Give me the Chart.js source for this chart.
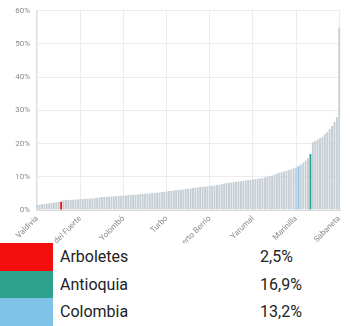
<!DOCTYPE html>
<html lang="es">
<head>
<meta charset="UTF-8">
<title>Municipios de Antioquia</title>
<script src="https://cdn.jsdelivr.net/npm/chart.js"></script>
<style>
  body { margin: 0; background: #fff; font-family: Roboto, "Noto Sans", sans-serif; }
  #wrap { position: relative; width: 350px; height: 326px; overflow: hidden; }
  #grafico { position: absolute; left: 0; top: 0; }
  #leyenda { position: absolute; left: 0; top: 243px; width: 350px; height: 83px; background: #fff; }
  .fila { position: relative; height: 27.7px; }
  .caja { position: absolute; left: 0; top: 0; width: 53px; height: 100%; }
  .nombre, .valor { position: absolute; top: 0; line-height: 27.7px; font-size: 16px; color: #222; }
  .nombre { left: 60px; }
  .valor { left: 260px; }
</style>
</head>
<body>
<div id="wrap">
  <canvas id="grafico" width="350" height="262"></canvas>
  <div id="leyenda"></div>
</div>
<script>
// municipios ordenados de menor a mayor (mas Antioquia y Colombia)
const municipios = [
  'Valdivia',
  'Abejorral', 'Abriaquí', 'Alejandría', 'Amagá', 'Amalfi', 'Andes', 'Angelópolis', 'Angostura', 'Anorí',
  'Arboletes',
  'Anzá', 'Apartadó', 'Argelia', 'Armenia', 'Barbosa', 'Bello', 'Belmira',
  'Vigía del Fuerte',
  'Betania', 'Betulia', 'Briceño', 'Buriticá', 'Cáceres', 'Caicedo', 'Caldas', 'Campamento', 'Cañasgordas',
  'Caracolí', 'Caramanta', 'Carepa', 'Carolina del Príncipe', 'Caucasia', 'Chigorodó', 'Cisneros', 'Ciudad Bolívar',
  'Yolombó',
  'Cocorná', 'Concepción', 'Concordia', 'Copacabana', 'Dabeiba', 'Donmatías', 'Ebéjico', 'El Bagre', 'El Carmen de Viboral',
  'El Peñol', 'El Retiro', 'El Santuario', 'Entrerríos', 'Envigado', 'Fredonia', 'Frontino', 'Giraldo',
  'Turbo',
  'Girardota', 'Gómez Plata', 'Granada', 'Guadalupe', 'Guarne', 'Guatapé', 'Heliconia', 'Hispania', 'Itagüí',
  'Ituango', 'Jardín', 'Jericó', 'La Ceja', 'La Estrella', 'La Pintada', 'La Unión', 'Liborina',
  'Puerto Berrío',
  'Maceo', 'Medellín', 'Montebello', 'Murindó', 'Mutatá', 'Nariño', 'Nechí', 'Necoclí', 'Olaya',
  'Peque', 'Pueblorrico', 'Puerto Nare', 'Puerto Triunfo', 'Remedios', 'Rionegro', 'Sabanalarga', 'Salgar',
  'Yarumal',
  'San Andrés de Cuerquia', 'San Carlos', 'San Francisco', 'San Jerónimo', 'San José de la Montaña', 'San Juan de Urabá',
  'San Luis', 'San Pedro de los Milagros', 'San Pedro de Urabá', 'San Rafael', 'San Roque', 'San Vicente Ferrer',
  'Santa Bárbara', 'Santa Fe de Antioquia', 'Santa Rosa de Osos', 'Santo Domingo', 'Segovia',
  'Marinilla',
  'Colombia',
  'Sonsón', 'Sopetrán', 'Támesis', 'Tarazá',
  'Antioquia',
  'Tarso', 'Titiribí', 'Toledo', 'Uramita', 'Urrao', 'Valparaíso', 'Vegachí', 'Venecia', 'Yalí', 'Yondó', 'Zaragoza',
  'Sabaneta'
];

// porcentajes
const porcentajes = [
  1.5,
  1.6, 1.7, 1.8, 1.9, 2.0, 2.1, 2.2, 2.3, 2.4,
  2.5,
  2.9, 3.0, 3.0, 3.1, 3.1, 3.2, 3.2,
  3.3,
  3.3, 3.4, 3.4, 3.5, 3.5, 3.6, 3.7, 3.8, 3.9, 3.9, 4.0, 4.0, 4.1, 4.1, 4.2, 4.2, 4.3,
  4.4,
  4.4, 4.5, 4.5, 4.6, 4.6, 4.7, 4.8, 4.8, 4.9, 5.0, 5.0, 5.1, 5.2, 5.2, 5.3, 5.4, 5.5,
  5.6,
  5.7, 5.8, 5.9, 6.0, 6.0, 6.1, 6.2, 6.3, 6.4, 6.5, 6.6, 6.7, 6.8, 6.9, 7.0, 7.0, 7.1,
  7.2,
  7.3, 7.4, 7.5, 7.6, 7.8, 8.0, 8.1, 8.2, 8.3, 8.4, 8.5, 8.6, 8.7, 8.8, 8.9, 9.0, 9.1,
  9.2,
  9.3, 9.4, 9.5, 9.6, 9.8, 10.0, 10.2, 10.4, 10.7, 11.0, 11.2, 11.4, 11.6, 11.8, 12.0, 12.3, 12.6,
  12.8,
  13.2,
  13.7, 14.3, 14.9, 15.6,
  16.9,
  20.4, 20.8, 21.2, 21.6, 22.1, 22.8, 23.5, 24.4, 25.3, 26.5, 28.0,
  55.0
];

const ticksY = [0, 10, 20, 30, 40, 50, 60];

// barras resaltadas
const destacados = ['Arboletes', 'Antioquia', 'Colombia'];
const coloresDestacados = ['#f40d0d', '#2ea28e', '#7fc3e8'];
const colorGris = '#c6cfd5';
const cadaEtiqueta = 18;

const colores = municipios.map(m => {
  const k = destacados.indexOf(m);
  return k >= 0 ? coloresDestacados[k] : colorGris;
});

new Chart(document.getElementById('grafico'), {
  type: 'bar',
  data: {
    labels: municipios,
    datasets: [{
      data: porcentajes,
      backgroundColor: colores,
      barPercentage: 0.8,
      categoryPercentage: 1
    }]
  },
  options: {
    responsive: false,
    animation: false,
    layout: { padding: { top: 5, right: 0, left: 0, bottom: 0 } },
    plugins: { legend: { display: false }, tooltip: { enabled: false } },
    scales: {
      x: {
        afterFit: s => { s.height = 52; },
        grid: { color: '#ececec', offset: false, drawTicks: false },
        border: { color: '#d8d8d8' },
        ticks: {
          autoSkip: false,
          minRotation: 45,
          maxRotation: 45,
          padding: 4,
          color: '#8a8a8a',
          font: { family: 'Roboto', size: 8 },
          callback: function (v, i) {
            return i % cadaEtiqueta === 0 ? this.getLabelForValue(v) : null;
          }
        }
      },
      y: {
        min: 0,
        max: 60,
        afterFit: s => { s.width = 36; },
        afterBuildTicks: s => { s.ticks = ticksY.map(v => ({ value: v })); },
        grid: { color: '#ececec', drawTicks: false },
        border: { color: '#e0e0e0' },
        ticks: {
          padding: 6,
          color: '#8a8a8a',
          font: { family: 'Roboto', size: 8 },
          callback: v => v + '%'
        }
      }
    }
  }
});

// leyenda inferior
const leyenda = document.getElementById('leyenda');
destacados.forEach((m, k) => {
  const v = porcentajes[municipios.indexOf(m)];
  const fila = document.createElement('div');
  fila.className = 'fila';
  fila.innerHTML = '<div class="caja" style="background:' + coloresDestacados[k] + '"></div>' +
    '<span class="nombre">' + m + '</span>' +
    '<span class="valor">' + v.toFixed(1).replace('.', ',') + '%</span>';
  leyenda.appendChild(fila);
});
</script>
</body>
</html>
